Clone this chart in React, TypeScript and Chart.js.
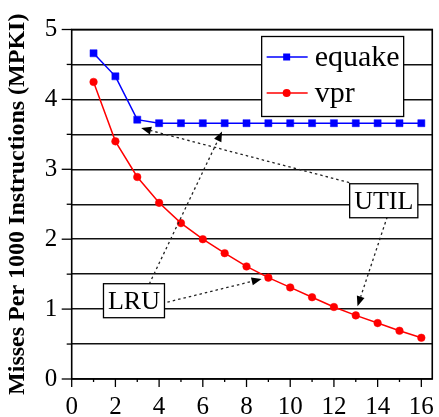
import React, { useEffect, useRef } from "react";
import { Chart, registerables } from "chart.js";

Chart.register(...registerables);

// ---- data ----
const xValues = [1, 2, 3, 4, 5, 6, 7, 8, 9, 10, 11, 12, 13, 14, 15, 16];
const equake = [4.66, 4.33, 3.71, 3.66, 3.66, 3.66, 3.66, 3.66, 3.66, 3.66, 3.66, 3.66, 3.66, 3.66, 3.66, 3.66];
const vpr = [4.25, 3.4, 2.89, 2.52, 2.23, 2.0, 1.8, 1.61, 1.45, 1.31, 1.17, 1.03, 0.91, 0.8, 0.69, 0.59];
const seriesNames = ["equake", "vpr"];
const seriesColors = ["#0000ff", "#ff0000"];
const seriesMarkers = ["rect", "circle"];
const xTickLabels = [0, 2, 4, 6, 8, 10, 12, 14, 16];
const yTickLabels = [0, 1, 2, 3, 4, 5];
const yTitle = "Misses Per 1000 Instructions (MPKI)";

// annotation boxes and arrows in data coordinates
const noteBoxes = [
  { text: "UTIL", x: 14.28, y: 2.55 },
  { text: "LRU", x: 2.85, y: 1.12 },
];
const noteArrows = [
  { from: [12.7, 2.81], to: [3.18, 3.59] },
  { from: [14.44, 2.32], to: [13.08, 1.04] },
  { from: [3.55, 1.36], to: [6.88, 3.54] },
  { from: [4.38, 1.1], to: [8.69, 1.43] },
];

const SERIF = "'Liberation Serif', 'DejaVu Serif', serif";

const decorPlugin = {
  id: "decor",
  afterDraw(chart: any) {
    const ctx = chart.ctx as CanvasRenderingContext2D;
    const ca = chart.chartArea;
    const xs = chart.scales.x;
    const ys = chart.scales.y;
    ctx.save();

    // frame
    ctx.strokeStyle = "#000";
    ctx.lineWidth = 1.6;
    ctx.setLineDash([]);
    ctx.strokeRect(ca.left, ca.top, ca.right - ca.left, ca.bottom - ca.top);

    // y tick marks
    ctx.lineWidth = 1.3;
    for (let v = 0; v <= 5.0001; v += 0.5) {
      const py = ys.getPixelForValue(v);
      const len = Math.abs(v - Math.round(v)) < 1e-6 ? 10 : 5;
      ctx.beginPath();
      ctx.moveTo(ca.left - len, py);
      ctx.lineTo(ca.left, py);
      ctx.stroke();
    }
    // x tick marks
    for (let v = 0; v <= 16; v += 1) {
      const px = xs.getPixelForValue(v);
      const len = v % 2 === 0 ? 8 : 3;
      ctx.beginPath();
      ctx.moveTo(px, ca.bottom);
      ctx.lineTo(px, ca.bottom + len);
      ctx.stroke();
    }

    // arrows
    for (const a of noteArrows) {
      const x1 = xs.getPixelForValue(a.from[0]);
      const y1 = ys.getPixelForValue(a.from[1]);
      const x2 = xs.getPixelForValue(a.to[0]);
      const y2 = ys.getPixelForValue(a.to[1]);
      const ang = Math.atan2(y2 - y1, x2 - x1);
      const headLen = 10;
      const hw = 4;
      const bx = x2 - headLen * Math.cos(ang);
      const by = y2 - headLen * Math.sin(ang);
      ctx.strokeStyle = "#222";
      ctx.lineWidth = 1.3;
      ctx.setLineDash([2.5, 3]);
      ctx.beginPath();
      ctx.moveTo(x1, y1);
      ctx.lineTo(bx, by);
      ctx.stroke();
      ctx.setLineDash([]);
      ctx.fillStyle = "#000";
      ctx.beginPath();
      ctx.moveTo(x2, y2);
      ctx.lineTo(bx + hw * Math.sin(ang), by - hw * Math.cos(ang));
      ctx.lineTo(bx - hw * Math.sin(ang), by + hw * Math.cos(ang));
      ctx.closePath();
      ctx.fill();
    }

    // note boxes
    ctx.font = `26px ${SERIF}`;
    ctx.textAlign = "center";
    ctx.textBaseline = "middle";
    for (const b of noteBoxes) {
      const cx = xs.getPixelForValue(b.x);
      const cy = ys.getPixelForValue(b.y);
      const w = ctx.measureText(b.text).width + 9;
      const h = 34;
      ctx.fillStyle = "#fff";
      ctx.fillRect(cx - w / 2, cy - h / 2, w, h);
      ctx.strokeStyle = "#000";
      ctx.lineWidth = 1.3;
      ctx.strokeRect(cx - w / 2, cy - h / 2, w, h);
      ctx.fillStyle = "#000";
      ctx.fillText(b.text, cx, cy + 1);
    }

    // legend
    const lw = 142;
    const lh = 80;
    const lx = ca.right - 28.6 - lw;
    const ly = ca.top + 7;
    ctx.fillStyle = "#fff";
    ctx.fillRect(lx, ly, lw, lh);
    ctx.strokeStyle = "#000";
    ctx.lineWidth = 1.3;
    ctx.strokeRect(lx, ly, lw, lh);
    ctx.font = `30px ${SERIF}`;
    ctx.textAlign = "left";
    ctx.textBaseline = "middle";
    seriesNames.forEach((name, i) => {
      const ry = ly + 20.5 + i * 36;
      ctx.strokeStyle = seriesColors[i];
      ctx.fillStyle = seriesColors[i];
      ctx.lineWidth = 1.5;
      ctx.beginPath();
      ctx.moveTo(lx + 5, ry);
      ctx.lineTo(lx + 46, ry);
      ctx.stroke();
      const mx = lx + 25;
      if (seriesMarkers[i] === "rect") {
        ctx.fillRect(mx - 3.5, ry - 3.5, 7, 7);
      } else {
        ctx.beginPath();
        ctx.arc(mx, ry, 4, 0, Math.PI * 2);
        ctx.fill();
      }
      ctx.fillStyle = "#000";
      ctx.fillText(name, lx + 53, ry + 1);
    });

    ctx.restore();
  },
};

export default function App() {
  const ref = useRef<HTMLCanvasElement | null>(null);

  useEffect(() => {
    document.body.style.margin = "0";
    const canvas = ref.current;
    if (!canvas) return;
    const chart = new Chart(canvas, {
      type: "line",
      data: {
        datasets: [
          {
            label: seriesNames[0],
            data: xValues.map((x, i) => ({ x, y: equake[i] })),
            borderColor: seriesColors[0],
            backgroundColor: seriesColors[0],
            borderWidth: 1.5,
            pointStyle: "rect",
            pointRadius: 5,
            pointBorderWidth: 0.5,
            fill: false,
            tension: 0,
          },
          {
            label: seriesNames[1],
            data: xValues.map((x, i) => ({ x, y: vpr[i] })),
            borderColor: seriesColors[1],
            backgroundColor: seriesColors[1],
            borderWidth: 1.5,
            pointStyle: "circle",
            pointRadius: 3.8,
            pointBorderWidth: 0.5,
            fill: false,
            tension: 0,
          },
        ],
      },
      options: {
        animation: false,
        responsive: false,
        maintainAspectRatio: false,
        layout: { padding: { top: 15.7, right: 4.7, left: 0, bottom: 0 } },
        plugins: {
          legend: { display: false },
          tooltip: { enabled: false },
        },
        scales: {
          x: {
            type: "linear",
            min: 0,
            max: 16.5,
            afterBuildTicks: (scale: any) => {
              scale.ticks = xTickLabels.map((v) => ({ value: v }));
            },
            afterFit: (scale: any) => {
              scale.height = 38;
            },
            ticks: {
              autoSkip: false,
              maxRotation: 0,
              padding: 5,
              color: "#000",
              font: { family: SERIF, size: 25 },
              callback: (v: any) => String(v),
            },
            grid: { display: false },
            border: { display: false },
          },
          y: {
            type: "linear",
            min: 0,
            max: 5,
            afterBuildTicks: (scale: any) => {
              const t: any[] = [];
              for (let v = 0; v <= 10; v++) t.push({ value: v / 2 });
              scale.ticks = t;
            },
            afterFit: (scale: any) => {
              scale.width = 71.7;
            },
            ticks: {
              autoSkip: false,
              padding: 14.5,
              color: "#000",
              font: { family: SERIF, size: 25 },
              callback: (v: any) => (yTickLabels.includes(v) ? String(v) : ""),
            },
            grid: { color: "#111", lineWidth: 1.5, drawTicks: false },
            border: { display: false },
            title: {
              display: true,
              text: yTitle,
              color: "#000",
              font: { family: SERIF, size: 24, weight: "bold" },
              padding: { top: 3, bottom: 0 },
            },
          },
        },
      },
      plugins: [decorPlugin],
    });
    return () => chart.destroy();
  }, []);

  return (
    <div style={{ width: 439, height: 417 }}>
      <canvas ref={ref} width={439} height={417} />
    </div>
  );
}
